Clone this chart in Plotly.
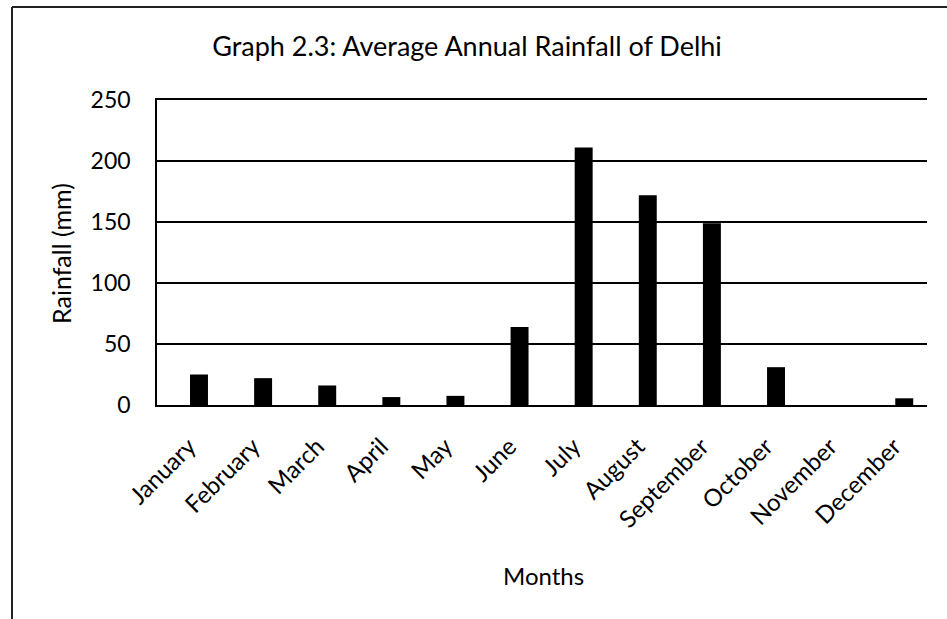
import plotly.graph_objects as go

# Average monthly rainfall for Delhi (mm)
months = ["January", "February", "March", "April", "May", "June",
          "July", "August", "September", "October", "November", "December"]
rainfall_mm = [25, 22, 16, 6.5, 7.5, 64, 211, 172, 149, 31, 0, 5.5]
y_ticks = [0, 50, 100, 150, 200, 250]

W, H = 947, 619
FONT = "Lato"

def px_x(v):
    return v / W

def px_y(v):
    return 1 - v / H

fig = go.Figure(
    go.Bar(
        x=months,
        y=rainfall_mm,
        marker=dict(color="black", line=dict(width=0)),
        hoverinfo="x+y",
    )
)

fig.update_layout(
    width=W,
    height=H,
    autosize=False,
    margin=dict(l=0, r=0, t=0, b=0, pad=0),
    paper_bgcolor="white",
    plot_bgcolor="white",
    bargap=0.72,
    showlegend=False,
    font=dict(family=FONT, color="black"),
    title=dict(
        text="Graph 2.3: Average Annual Rainfall of Delhi",
        x=px_x(467),
        xanchor="center",
        y=px_y(47),
        yanchor="middle",
        font=dict(family=FONT, size=27, color="black"),
    ),
    xaxis=dict(
        domain=[px_x(157), px_x(927)],
        range=[-0.655, 11.355],
        type="category",
        automargin=False,
        tickangle=-45,
        showline=True,
        mirror=True,
        linecolor="black",
        linewidth=2,
        showgrid=False,
        ticks="",
        tickfont=dict(family=FONT, size=24, color="black"),
        ticklabelstandoff=16,
        ticklabelshift=-10,
    ),
    yaxis=dict(
        domain=[px_y(405), px_y(100)],
        range=[0, 250],
        tickvals=y_ticks,
        automargin=False,
        showline=True,
        linecolor="black",
        linewidth=1.5,
        showgrid=True,
        gridcolor="black",
        gridwidth=1.5,
        zeroline=False,
        ticks="",
        tickfont=dict(family=FONT, size=23, color="black"),
        ticklabelstandoff=20,
    ),
    annotations=[
        dict(
            text="Rainfall (mm)",
            xref="paper", yref="paper",
            x=px_x(61), y=px_y(254),
            xanchor="center", yanchor="middle",
            textangle=-90, showarrow=False,
            font=dict(family=FONT, size=25, color="black"),
        ),
        dict(
            text="Months",
            xref="paper", yref="paper",
            x=px_x(543), y=px_y(575),
            xanchor="center", yanchor="middle",
            showarrow=False,
            font=dict(family=FONT, size=24, color="black"),
        ),
    ],
    shapes=[
        # chart frame (left and top edges)
        dict(type="line", xref="paper", yref="paper",
             x0=px_x(12), x1=px_x(12), y0=px_y(7), y1=px_y(625),
             line=dict(color="#222222", width=2)),
        dict(type="line", xref="paper", yref="paper",
             x0=px_x(12), x1=px_x(955), y0=px_y(7), y1=px_y(7),
             line=dict(color="#222222", width=2)),
    ],
)

fig.write_html("out.html")
